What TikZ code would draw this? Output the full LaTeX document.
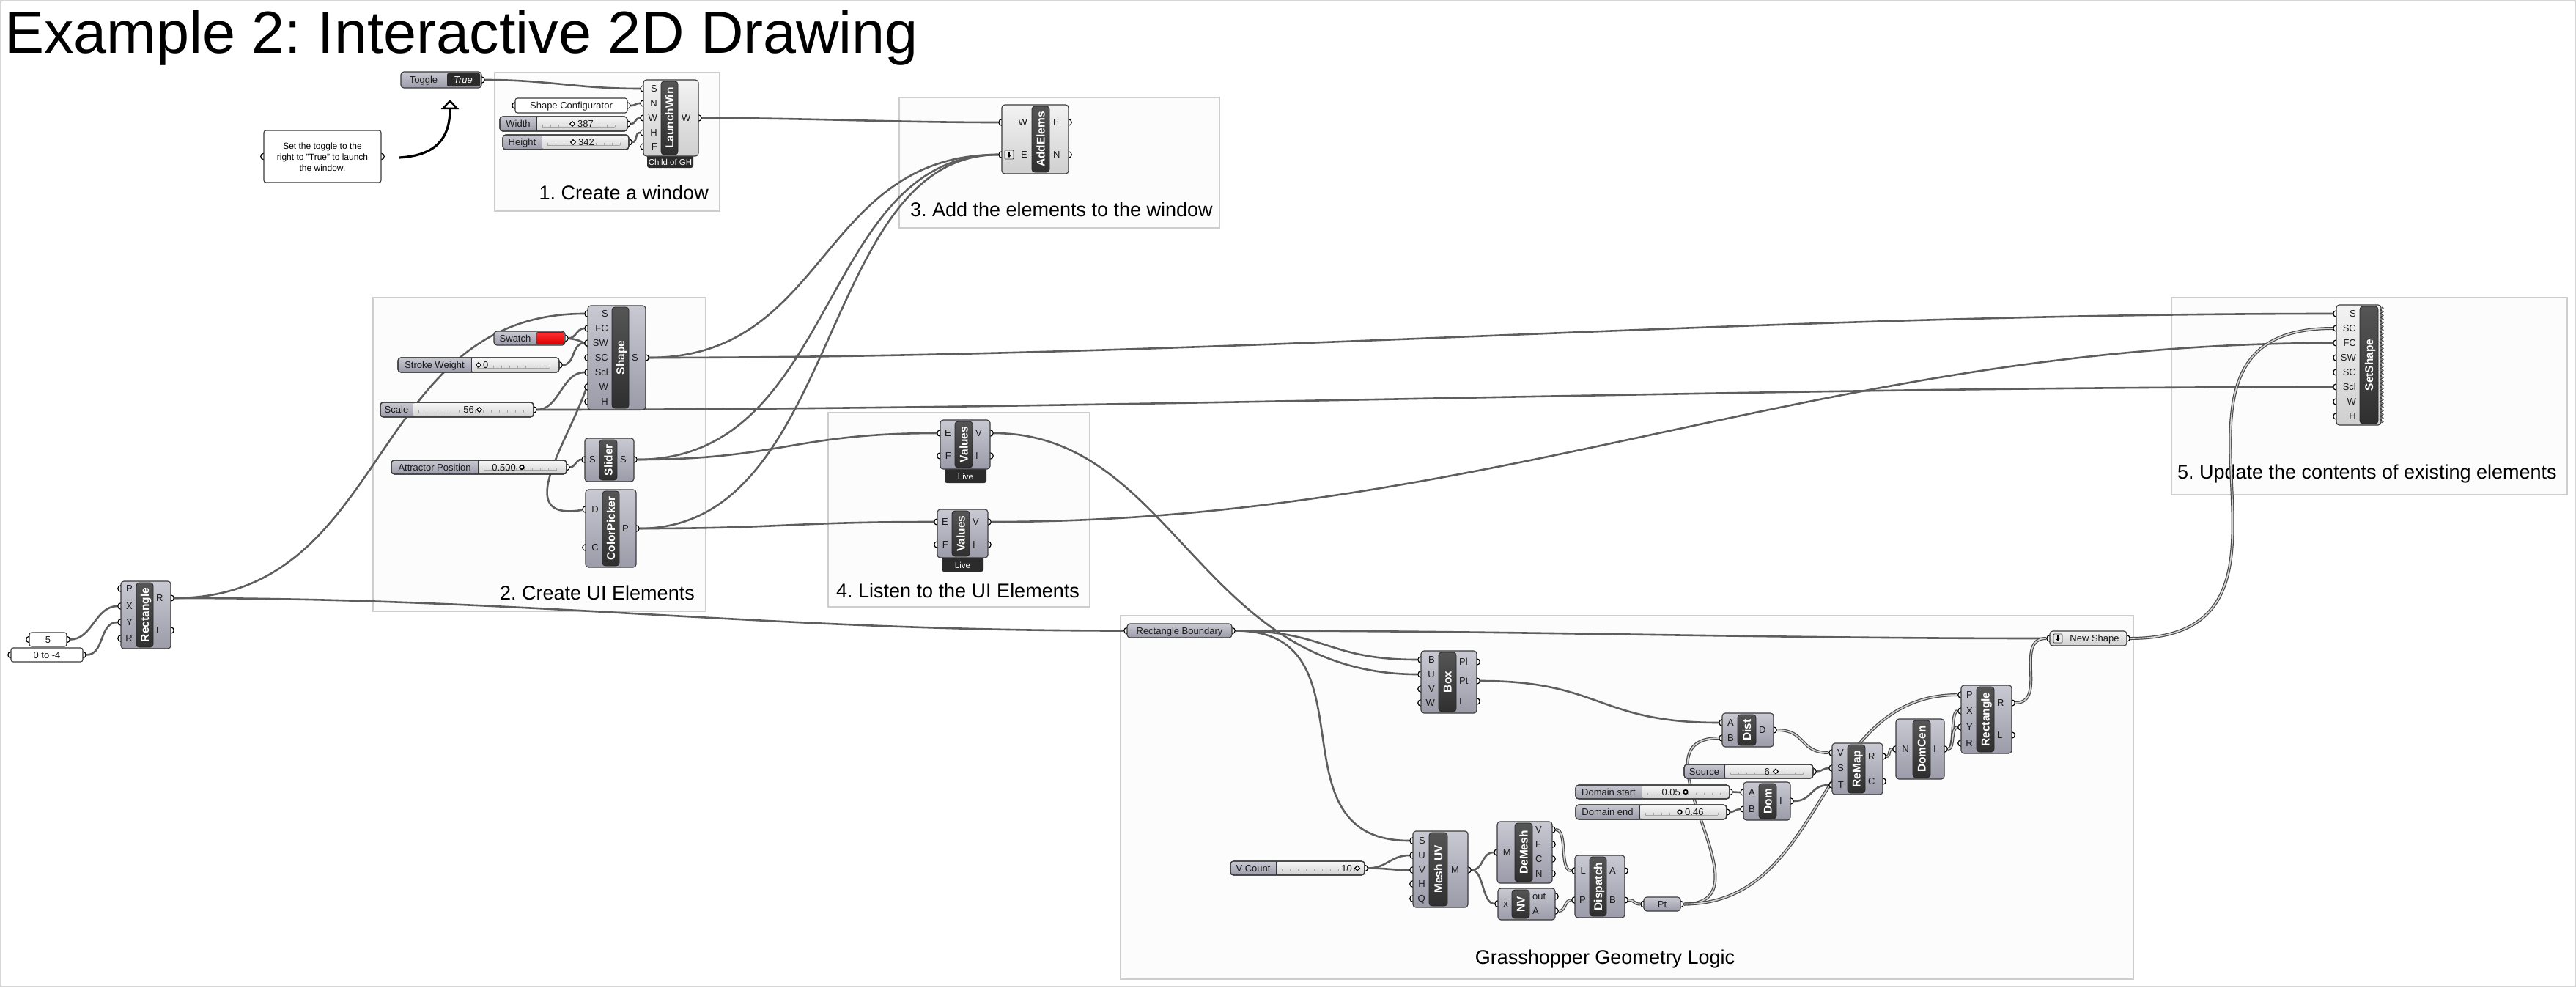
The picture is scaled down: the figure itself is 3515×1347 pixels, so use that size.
\documentclass[tikz,border=0pt]{standalone}
\usepackage{fontspec}
\setmainfont{Liberation Sans}
\frenchspacing
\usetikzlibrary{arrows.meta,decorations.pathmorphing}
\pgfdeclarelayer{bg}
\pgfdeclarelayer{groups}
\pgfdeclarelayer{wires}
\pgfdeclarelayer{grips}
\pgfsetlayers{bg,groups,wires,grips,main}
\definecolor{gTop}{HTML}{C9C9D3}
\definecolor{gBot}{HTML}{9B9BA9}
\definecolor{gEdge}{HTML}{3A3A3A}
\definecolor{lTop}{HTML}{F3F3F3}
\definecolor{lBot}{HTML}{CFCFCF}
\definecolor{sTop}{HTML}{555555}
\definecolor{sBot}{HTML}{2F2F2F}
\definecolor{vTop}{HTML}{F6F6F6}
\definecolor{vBot}{HTML}{D3D3D3}
\definecolor{tickc}{HTML}{A5A5A5}
\definecolor{tagc}{HTML}{2B2B2B}
\definecolor{wirec}{HTML}{5E5E5E}
\definecolor{wired}{HTML}{4A4A4A}
\definecolor{dwirec}{HTML}{D2D2D2}
\definecolor{grpEdge}{HTML}{CDCDCD}
\definecolor{grpFill}{HTML}{FCFCFC}
\definecolor{framec}{HTML}{D6D6D6}
\definecolor{swRedTop}{HTML}{FF3030}
\definecolor{swRedBot}{HTML}{DD0000}
\definecolor{iconc}{HTML}{E9E9E9}
\newcommand\fLab{\fontsize{13}{15}\selectfont}
\newcommand\fStrip{\fontsize{15.5}{17}\selectfont\bfseries}
\newcommand\fGroup{\fontsize{27}{31}\selectfont}
\newcommand\fTitle{\fontsize{81}{92}\selectfont}
\newcommand\fTag{\fontsize{11.5}{13}\selectfont}
\newcommand\fNote{\fontsize{12}{15}\selectfont}
\tikzset{
 gbody/.style={draw=gEdge, line width=1.1, rounded corners=4, top color=gTop, bottom color=gBot},
 lbody/.style={draw=gEdge, line width=1.1, rounded corners=4, top color=lTop, bottom color=lBot},
 stripbox/.style={draw=black!85, line width=0.8, rounded corners=4, top color=sTop, bottom color=sBot},
 striptext/.style={rotate=90, text=white, font=\fStrip, inner sep=0, text height=11, text depth=0},
 plab/.style={font=\fLab, inner sep=0, text height=9.3, text depth=0, text=black!90},
 grip/.style={circle, minimum size=8.5, inner sep=0, fill=white, draw=black, line width=1.2},
 panel/.style={draw=gEdge, line width=1.1, rounded corners=3, fill=white},
 svalue/.style={rounded corners=3, top color=vTop, bottom color=vBot},
 tickline/.style={draw=tickc, line width=0.7},
 tagbox/.style={fill=tagc, rounded corners=3},
 tagtext/.style={font=\fTag, text=white, inner sep=0, text height=8.3, text depth=0},
 wire/.style={draw=wirec, line width=2.6},
 dwire/.style={draw=wired, line width=1.2, double=dwirec, double distance=1.6},
 groupbox/.style={draw=grpEdge, fill=grpFill, line width=1.3},
 grouplabel/.style={font=\fGroup, anchor=base east, inner sep=0},
}
\newcommand\ghgrip[3]{\begin{pgfonlayer}{grips}\node[grip] (#1) at ({#2},{#3}) {};\end{pgfonlayer}}
\newcommand\ghin[5]{\ghgrip{#1}{#2}{#3}\node[plab,anchor=east] (#1-t) at ({#5},{#3}) {#4};}
\newcommand\ghout[5]{\ghgrip{#1}{#2}{#3}\node[plab,anchor=west] (#1-t) at ({#5},{#3}) {#4};}
\newcommand\ghcomp[9]{\path[#9] ({#2},{#3}) rectangle ({#4},{#5});
 \path[stripbox] ({#6},{#3+2}) rectangle ({#7},{#5-2});
 \node[striptext] (#1) at ({(#6+#7)/2},{(#3+#5)/2}) {#8};}
\newcommand\ghslider[7]{\ghgrip{#1}{#4}{(#3+#5)/2}
 \path[gbody] ({#2},{#3}) rectangle ({#4},{#5});
 \path[svalue] ({#6},{#3+1.2}) rectangle ({#4-1.2},{#5-1.2});
 \pgfmathtruncatemacro{\ntk}{(#4-#6-16)/11}
 \draw[tickline] ({#6+8},{(#3+#5)/2+4}) -- ({#6+8+11*\ntk},{(#3+#5)/2+4});
 \foreach \k in {0,...,\ntk}{\draw[tickline] ({#6+8+11*\k},{(#3+#5)/2+4}) -- ++(0,-3);}
 \draw[gEdge,line width=1.1,rounded corners=4] ({#2},{#3}) rectangle ({#4},{#5});
 \draw[gEdge,line width=1] ({#6},{#3}) -- ({#6},{#5});
 \node[plab] (#1-t) at ({(#2+#6)/2},{(#3+#5)/2}) {#7};}
\newcommand\ghdiam[2]{\draw[fill=white,line width=1.1] ({#1-3.3},{#2}) -- ({#1},{#2-3.3}) -- ({#1+3.3},{#2}) -- ({#1},{#2+3.3}) -- cycle;}
\newcommand\ghcirc[2]{\draw[fill=white,line width=1.7] ({#1},{#2}) circle (2.8pt);}
\newcommand\ghicon[2]{\draw[gEdge,fill=iconc,line width=0.8,rounded corners=1] ({#1},{#2}) rectangle ({#1+12},{#2+12});
 \draw[line width=1.1,-{Stealth[length=3.5,width=5]}] ({#1+6},{#2+2}) -- ({#1+6},{#2+10});}

\begin{document}
\begin{tikzpicture}[x=1pt,y=-1pt]
\useasboundingbox (0,0) rectangle (3515,1347);
\begin{pgfonlayer}{bg}
\fill[white] (0,0) rectangle (3515,1347);
\draw[framec,line width=2] (1,1) rectangle (3514,1346);
\end{pgfonlayer}

% ---------- title ----------
\node[font=\fTitle, anchor=base west, inner sep=0] (title) at (6,72) {Example 2: Interactive 2D Drawing};

% ---------- groups ----------
\begin{pgfonlayer}{groups}
\path[groupbox] (675,99) rectangle (982,288);
\node[grouplabel] (g1) at (967,272) {1. Create a window};
\path[groupbox] (509,406) rectangle (963,834);
\node[grouplabel] (g2) at (948,818) {2. Create UI Elements};
\path[groupbox] (1227,133) rectangle (1664,311);
\node[grouplabel] (g3) at (1655,295) {3. Add the elements to the window};
\path[groupbox] (1130,563) rectangle (1487,828);
\node[grouplabel] (g4) at (1473,815) {4. Listen to the UI Elements};
\path[groupbox] (2963,406) rectangle (3503,675);
\node[grouplabel] (g5) at (3489,653) {5. Update the contents of existing elements};
\path[groupbox] (1529,840) rectangle (2911,1336);
\node[grouplabel, anchor=base] (g6) at (2190,1315) {Grasshopper Geometry Logic};
\end{pgfonlayer}

% ---------- toggle + note ----------
\ghgrip{tg-o}{657}{109}
\path[gbody] (547,98) rectangle (657,120);
\path[fill=tagc, rounded corners=2] (610,100) rectangle (655,118);
\node[plab] (tg-l) at (578,109) {Toggle};
\node[plab, text=white, font=\fLab\itshape] (tg-v) at (632,109) {True};

\ghgrip{note-i}{360}{213.5}
\ghgrip{note-o}{520}{213.5}
\path[panel] (360,178) rectangle (520,249);
\node[font=\fNote, align=center, inner sep=0] (note) at (440,214) {Set the toggle to the\\right to "True" to launch\\the window.};
\coordinate (arr-s) at (545,215);
\coordinate (arr-e) at (614,136);
\draw[line width=3.2, -{Triangle[open, length=13, width=24, line width=2.4]}] (arr-s) .. controls +(48,-3) and +(0,55) .. (arr-e);

% ---------- group 1 ----------
\ghgrip{sc-i}{703}{144}
\ghgrip{sc-o}{856}{144}
\path[panel] (703,134) rectangle (856,154);
\node[plab] (sc) at (779.5,144) {Shape Configurator};
\ghslider{wd}{682}{159}{856}{179}{732}{Width}
\ghdiam{781}{169}
\node[plab,anchor=west] (wd-v) at (788,169) {387};
\ghslider{ht}{686}{184}{858}{204}{739}{Height}
\ghdiam{782}{194}
\node[plab,anchor=west] (ht-v) at (789,194) {342};

\path[tagbox] (883,208) rectangle (946,229);
\node[tagtext] (lw-tag) at (914.5,221) {Child of GH};
\ghcomp{lw}{878}{109}{953}{213}{902}{925}{LaunchWin}{lbody}
\ghin{lw-S}{878}{121}{S}{897}
\ghin{lw-N}{878}{141}{N}{897}
\ghin{lw-W}{878}{161}{W}{897}
\ghin{lw-H}{878}{181}{H}{897}
\ghin{lw-F}{878}{200}{F}{897}
\ghout{lw-Wo}{953}{161}{W}{930}

% ---------- group 3 ----------
\ghcomp{ae}{1367}{143}{1458}{237}{1408}{1432}{AddElems}{lbody}
\ghin{ae-W}{1367}{167}{W}{1402}
\ghin{ae-E}{1367}{211}{E}{1402}
\ghout{ae-Eo}{1458}{167}{E}{1437}
\ghout{ae-No}{1458}{211}{N}{1437}
\ghicon{1371}{205}

% ---------- group 2 ----------
\ghcomp{sh}{802}{417}{881}{559}{835}{858}{Shape}{gbody}
\ghin{sh-S}{802}{428}{S}{830}
\ghin{sh-FC}{802}{448}{FC}{830}
\ghin{sh-SW}{802}{468}{SW}{830}
\ghin{sh-SC}{802}{488}{SC}{830}
\ghin{sh-Scl}{802}{508}{Scl}{830}
\ghin{sh-W}{802}{528}{W}{830}
\ghin{sh-H}{802}{548}{H}{830}
\ghout{sh-So}{881}{488}{S}{862}

\ghgrip{sw-o}{771}{461.5}
\path[gbody] (674,452) rectangle (771,471);
\path[draw=gEdge, line width=0.8, top color=swRedTop, bottom color=swRedBot, rounded corners=2] (732,453.5) rectangle (769.5,469.5);
\node[plab] (sw-t) at (703,461.5) {Swatch};

\ghslider{stw}{543}{488}{763}{508}{643}{Stroke Weight}
\ghdiam{653}{498}
\node[plab,anchor=west] (stw-v) at (659,498) {0};
\ghslider{scl}{519}{549}{728}{569}{563}{Scale}
\node[plab,anchor=east] (scl-v) at (647,559) {56};
\ghdiam{654}{559}
\ghslider{att}{534}{628}{773}{647}{652}{Attractor Position}
\node[plab,anchor=east] (att-v) at (704,637.5) {0.500};
\ghcirc{712}{637.5}

\ghcomp{sl}{798}{598}{865}{657}{818}{842}{Slider}{gbody}
\ghin{sl-S}{798}{627}{S}{813}
\ghout{sl-So}{865}{627}{S}{846}
\ghcomp{cp}{799}{668}{868}{774}{822}{845}{ColorPicker}{gbody}
\ghin{cp-D}{799}{695}{D}{817}
\ghin{cp-C}{799}{747}{C}{817}
\ghout{cp-Po}{868}{721}{P}{849}

% ---------- group 4 ----------
\path[tagbox] (1289,635) rectangle (1346,659);
\node[tagtext] (va-tag) at (1317.5,650.5) {Live};
\ghcomp{va}{1283}{573}{1351}{640}{1303}{1327}{Values}{gbody}
\ghin{va-E}{1283}{591}{E}{1298}
\ghin{va-F}{1283}{622}{F}{1298}
\ghout{va-Vo}{1351}{591}{V}{1331}
\ghout{va-Io}{1351}{622}{I}{1331}
\path[tagbox] (1285,756) rectangle (1342,780);
\node[tagtext] (vb-tag) at (1313.5,771.5) {Live};
\ghcomp{vb}{1279}{695}{1348}{761}{1299}{1323}{Values}{gbody}
\ghin{vb-E}{1279}{712}{E}{1294}
\ghin{vb-F}{1279}{743}{F}{1294}
\ghout{vb-Vo}{1348}{712}{V}{1327}
\ghout{vb-Io}{1348}{743}{I}{1327}

% ---------- left rectangle ----------
\ghgrip{p5-i}{40}{872.5}
\ghgrip{p5-o}{91}{872.5}
\path[panel] (40,863) rectangle (91,882);
\node[plab] (p5) at (65.5,872.5) {5};
\ghgrip{p04-i}{15}{893.5}
\ghgrip{p04-o}{113}{893.5}
\path[panel] (15,884) rectangle (113,903);
\node[plab] (p04) at (64,893.5) {0 to -4};
\ghcomp{ra}{165}{793}{233}{885}{186}{209}{Rectangle}{gbody}
\ghin{ra-P}{165}{803}{P}{181}
\ghin{ra-X}{165}{827}{X}{181}
\ghin{ra-Y}{165}{849}{Y}{181}
\ghin{ra-R}{165}{871}{R}{181}
\ghout{ra-Ro}{233}{816}{R}{213}
\ghout{ra-Lo}{233}{860}{L}{213}

% ---------- group 5 ----------
\path[lbody] (3188,416) rectangle (3249,580);
\draw[gEdge, line width=1, decorate, decoration={zigzag, segment length=5, amplitude=2}] (3250,419) -- (3250,577);
\path[stripbox] (3220,418) rectangle (3245,578);
\node[striptext] (ss) at (3232.5,498) {SetShape};
\ghin{ss-S}{3188}{428}{S}{3215}
\ghin{ss-SC}{3188}{448}{SC}{3215}
\ghin{ss-FC}{3188}{468}{FC}{3215}
\ghin{ss-SW}{3188}{488}{SW}{3215}
\ghin{ss-SC2}{3188}{508}{SC}{3215}
\ghin{ss-Scl}{3188}{528}{Scl}{3215}
\ghin{ss-W}{3188}{548}{W}{3215}
\ghin{ss-H}{3188}{568}{H}{3215}

% ---------- group 6 ----------
\ghgrip{rbd-i}{1538}{860.5}
\ghgrip{rbd-o}{1681}{860.5}
\path[gbody] (1538,851) rectangle (1681,870);
\node[plab] (rbd) at (1609.5,860.5) {Rectangle Boundary};

\ghcomp{bx}{1939}{888}{2015}{973}{1963}{1987}{Box}{gbody}
\ghin{bx-B}{1939}{900}{B}{1958}
\ghin{bx-U}{1939}{920}{U}{1958}
\ghin{bx-V}{1939}{940}{V}{1958}
\ghin{bx-W}{1939}{959}{W}{1958}
\ghout{bx-Plo}{2015}{903}{Pl}{1991}
\ghout{bx-Pto}{2015}{929}{Pt}{1991}
\ghout{bx-Io}{2015}{957}{I}{1991}

\ghcomp{di}{2350}{973}{2420}{1019}{2371}{2396}{Dist}{gbody}
\ghin{di-A}{2350}{986}{A}{2366}
\ghin{di-B}{2350}{1007}{B}{2366}
\ghout{di-Do}{2420}{996}{D}{2400}

\ghslider{src}{2298}{1043}{2474}{1062}{2353}{Source}
\node[plab,anchor=east] (src-v) at (2415,1052.5) {6};
\ghdiam{2423}{1052.5}
\ghslider{dst}{2150}{1071}{2360}{1090}{2240}{Domain start}
\node[plab,anchor=east] (dst-v) at (2293,1080.5) {0.05};
\ghcirc{2300}{1080.5}
\ghslider{den}{2150}{1098}{2356}{1118}{2237}{Domain end}
\ghcirc{2292}{1108}
\node[plab,anchor=west] (den-v) at (2299,1108) {0.46};

\ghcomp{dm}{2379}{1067}{2443}{1119}{2400}{2424}{Dom}{gbody}
\ghin{dm-A}{2379}{1081}{A}{2395}
\ghin{dm-B}{2379}{1104}{B}{2395}
\ghout{dm-Io}{2443}{1093}{I}{2428}

\ghcomp{rm}{2500}{1014}{2569}{1084}{2521}{2545}{ReMap}{gbody}
\ghin{rm-V}{2500}{1027}{V}{2516}
\ghin{rm-S}{2500}{1048}{S}{2516}
\ghin{rm-T}{2500}{1071}{T}{2516}
\ghout{rm-Ro}{2569}{1032}{R}{2549}
\ghout{rm-Co}{2569}{1066}{C}{2549}

\ghcomp{dc}{2587}{981}{2653}{1063}{2610}{2634}{DomCen}{gbody}
\ghin{dc-N}{2587}{1022}{N}{2605}
\ghout{dc-Io}{2653}{1022}{I}{2638}

\ghcomp{rb2}{2676}{935}{2745}{1028}{2697}{2721}{Rectangle}{gbody}
\ghin{rb2-P}{2676}{948}{P}{2692}
\ghin{rb2-X}{2676}{970}{X}{2692}
\ghin{rb2-Y}{2676}{992}{Y}{2692}
\ghin{rb2-R}{2676}{1014}{R}{2692}
\ghout{rb2-Ro}{2745}{959}{R}{2725}
\ghout{rb2-Lo}{2745}{1003}{L}{2725}

\ghgrip{pt-i}{2243}{1233.5}
\ghgrip{pt-o}{2293}{1233.5}
\path[gbody] (2243,1224) rectangle (2293,1243);
\node[plab] (pt) at (2268,1233.5) {Pt};

\ghcomp{dp}{2149}{1167}{2217}{1252}{2169}{2192}{Dispatch}{gbody}
\ghin{dp-L}{2149}{1188}{L}{2164}
\ghin{dp-P}{2149}{1228}{P}{2164}
\ghout{dp-Ao}{2217}{1188}{A}{2196}
\ghout{dp-Bo}{2217}{1228}{B}{2196}

\ghcomp{dx}{2043}{1121}{2118}{1205}{2067}{2091}{DeMesh}{gbody}
\ghin{dx-M}{2043}{1163}{M}{2062}
\ghout{dx-Vo}{2118}{1132}{V}{2095}
\ghout{dx-Fo}{2118}{1152}{F}{2095}
\ghout{dx-Co}{2118}{1172}{C}{2095}
\ghout{dx-No}{2118}{1192}{N}{2095}

\ghcomp{nv}{2044}{1212}{2122}{1255}{2063}{2087}{NV}{gbody}
\ghin{nv-x}{2044}{1233}{x}{2058}
\ghout{nv-outo}{2122}{1223}{out}{2091}
\ghout{nv-Ao}{2122}{1243}{A}{2091}

\ghcomp{mu}{1928}{1134}{2003}{1238}{1950}{1975}{Mesh UV}{gbody}
\ghin{mu-S}{1928}{1147}{S}{1945}
\ghin{mu-U}{1928}{1167}{U}{1945}
\ghin{mu-V}{1928}{1187}{V}{1945}
\ghin{mu-H}{1928}{1206}{H}{1945}
\ghin{mu-Q}{1928}{1226}{Q}{1945}
\ghout{mu-Mo}{2003}{1187}{M}{1980}

\ghslider{vc}{1679}{1175}{1862}{1194}{1741}{V Count}
\node[plab,anchor=east] (vc-v) at (1845,1184.5) {10};
\ghdiam{1852}{1184.5}

\ghgrip{ns-i}{2797}{871}
\ghgrip{ns-o}{2902}{871}
\path[lbody] (2797,861) rectangle (2902,881);
\ghicon{2802}{865}
\node[plab] (ns) at (2858,871) {New Shape};

% ---------- wires ----------
\begin{pgfonlayer}{wires}
\draw[wire] (tg-o) .. controls +(90,0) and +(-90,0) .. (lw-S);
\draw[wire] (sc-o) .. controls +(12,0) and +(-12,0) .. (lw-N);
\draw[wire] (wd) .. controls +(12,0) and +(-12,0) .. (lw-W);
\draw[wire] (ht) .. controls +(12,0) and +(-12,0) .. (lw-H);
\draw[wire] (lw-Wo) .. controls +(150,0) and +(-150,0) .. (ae-W);
\draw[wire] (sh-So) .. controls +(250,0) and +(-250,0) .. (ae-E);
\draw[wire] (sl-So) .. controls +(280,0) and +(-250,0) .. (ae-E);
\draw[wire] (cp-Po) .. controls +(280,0) and +(-250,0) .. (ae-E);
\draw[wire] (sl-So) .. controls +(200,0) and +(-200,0) .. (va-E);
\draw[wire] (cp-Po) .. controls +(200,0) and +(-200,0) .. (vb-E);
\draw[wire] (ra-Ro) .. controls +(300,0) and +(-300,0) .. (sh-S);
\draw[wire] (ra-Ro) .. controls +(500,0) and +(-500,0) .. (rbd-i);
\draw[wire] (p5-o) .. controls +(35,0) and +(-35,0) .. (ra-X);
\draw[wire] (p04-o) .. controls +(30,0) and +(-30,0) .. (ra-Y);
\draw[wire] (sw-o) .. controls +(15,0) and +(-15,0) .. (sh-FC);
\draw[wire] (sw-o) .. controls +(119,9) and +(-149,25) .. (cp-D);
\draw[wire] (stw) .. controls +(22,0) and +(-22,0) .. (sh-SW);
\draw[wire] (scl) .. controls +(35,0) and +(-35,0) .. (sh-Scl);
\draw[wire] (scl) .. controls +(800,0) and +(-800,0) .. (ss-Scl);
\draw[wire] (att) .. controls +(12,0) and +(-12,0) .. (sl-S);
\draw[wire] (sh-So) .. controls +(800,0) and +(-800,0) .. (ss-S);
\draw[wire] (vb-Vo) .. controls +(700,0) and +(-700,0) .. (ss-FC);
\draw[wire] (va-Vo) .. controls +(250,0) and +(-300,0) .. (bx-U);
\draw[wire] (rbd-o) .. controls +(130,0) and +(-130,0) .. (bx-B);
\draw[wire] (rbd-o) .. controls +(400,0) and +(-400,0) .. (ns-i);
\draw[wire] (rbd-o) .. controls +(200,0) and +(-200,0) .. (mu-S);
\draw[wire] (bx-Pto) .. controls +(170,0) and +(-170,0) .. (di-A);
\draw[wire] (vc) .. controls +(30,0) and +(-30,0) .. (mu-U);
\draw[wire] (vc) .. controls +(30,0) and +(-30,0) .. (mu-V);
\draw[wire] (mu-Mo) .. controls +(22,0) and +(-22,0) .. (dx-M);
\draw[wire] (mu-Mo) .. controls +(22,0) and +(-22,0) .. (nv-x);
\draw[dwire] (dx-Vo) .. controls +(22,0) and +(-22,0) .. (dp-L);
\draw[dwire] (nv-Ao) .. controls +(15,0) and +(-15,0) .. (dp-P);
\draw[dwire] (dp-Bo) .. controls +(15,0) and +(-15,0) .. (pt-i);
\draw[dwire] (pt-o) .. controls +(130,0) and +(-130,0) .. (di-B);
\draw[dwire] (pt-o) .. controls +(200,0) and +(-200,0) .. (rb2-P);
\draw[dwire] (di-Do) .. controls +(45,0) and +(-45,0) .. (rm-V);
\draw[wire] (src) .. controls +(12,0) and +(-12,0) .. (rm-S);
\draw[wire] (dst) .. controls +(10,0) and +(-10,0) .. (dm-A);
\draw[wire] (den) .. controls +(10,0) and +(-10,0) .. (dm-B);
\draw[wire] (dm-Io) .. controls +(30,0) and +(-30,0) .. (rm-T);
\draw[dwire] (rm-Ro) .. controls +(12,0) and +(-12,0) .. (dc-N);
\draw[dwire] (dc-Io) .. controls +(15,0) and +(-15,0) .. (rb2-X);
\draw[dwire] (dc-Io) .. controls +(15,0) and +(-15,0) .. (rb2-Y);
\draw[dwire] (rb2-Ro) .. controls +(50,0) and +(-50,0) .. (ns-i);
\draw[dwire] (ns-o) .. controls +(300,0) and +(-300,0) .. (ss-SC);
\end{pgfonlayer}
\end{tikzpicture}
\end{document}
